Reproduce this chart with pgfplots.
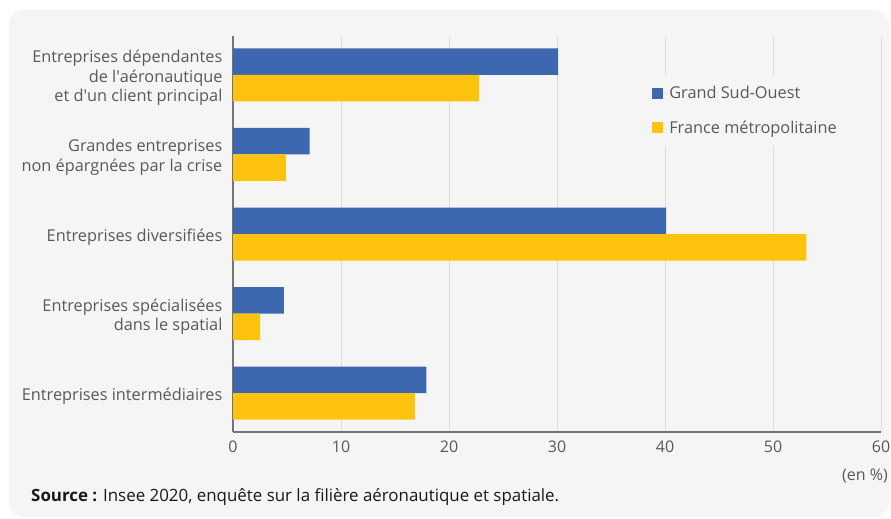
\documentclass[border=0pt]{standalone}
\usepackage{fontspec}
\setmainfont{Open Sans}
\usepackage{pgfplots}
\pgfplotsset{compat=1.18}
\definecolor{bleu}{HTML}{3D67AF}
\definecolor{jaune}{HTML}{FDC30E}
\definecolor{panel}{HTML}{F5F5F5}
\definecolor{txt}{HTML}{595959}
\definecolor{gridc}{HTML}{DCDCDC}
\definecolor{axc}{HTML}{757575}
\begin{document}
\fontsize{16.2bp}{19.5bp}\selectfont
\begin{tikzpicture}
\useasboundingbox (0,0) rectangle (891bp,519bp);
\fill[white] (0,0) rectangle (891bp,519bp);
\fill[panel, rounded corners=15bp] (9bp,2bp) rectangle (889bp,509bp);
\begin{axis}[
  at={(233bp,87bp)}, anchor=south west,
  scale only axis, width=648bp, height=396bp,
  xbar, bar width=26.5bp,
  xmin=0, xmax=60, ymin=-0.49, ymax=4.49, y dir=reverse,
  xtick={0,10,...,60}, ytick={0,1,2,3,4},
  yticklabels={{Entreprises dépendantes\\de l\textquotesingle aéronautique\\et d\textquotesingle un client principal},
               {Grandes entreprises\\non épargnées par la crise},
               {Entreprises diversifiées},
               {Entreprises spécialisées\\dans le spatial},
               {Entreprises intermédiaires}},
  yticklabel style={align=right, text=txt, font=\fontsize{16.3bp}{19.5bp}\selectfont, xshift=-5bp, yshift=-3bp},
  xticklabel style={text=txt, font=\fontsize{16bp}{18bp}\selectfont, yshift=-3.5bp},
  /pgf/number format/assume math mode=true,
  axis x line=bottom, axis y line=left,
  axis line style={-, axc, line width=1.2bp},
  major tick length=0pt, tick style={draw=none},
  xmajorgrids, grid style={gridc, line width=0.9bp},
  legend style={at={(0.636,0.899)}, anchor=north west, fill=panel, draw=none,
    text=txt, font=\fontsize{16.3bp}{18bp}\selectfont,
    row sep=16bp, inner xsep=7bp, inner ysep=8bp},
  legend cell align=left,
  legend image code/.code={\fill[#1] (0bp,-5bp) rectangle (11bp,6bp); \path (0bp,0bp) -- (15bp,0bp);},
]
\addplot[fill=bleu, draw=none, bar shift=13.25bp] coordinates {(30.1,0) (7.1,1) (40.1,2) (4.7,3) (17.9,4)};
\addlegendentry{Grand Sud-Ouest}
\addplot[fill=jaune, draw=none, bar shift=-13.25bp] coordinates {(22.8,0) (4.9,1) (53.1,2) (2.5,3) (16.85,4)};
\addlegendentry{France métropolitaine}
\end{axis}
\node[anchor=east, text=txt, inner sep=0pt, font=\fontsize{16bp}{18bp}\selectfont] at (888bp,43bp) {(en \%)};
\node[anchor=west, text=black!90, inner sep=0pt, font=\fontsize{16.9bp}{18bp}\selectfont] at (31bp,22bp) {\textbf{Source :} Insee 2020, enquête sur la filière aéronautique et spatiale.};
\end{tikzpicture}
\end{document}
